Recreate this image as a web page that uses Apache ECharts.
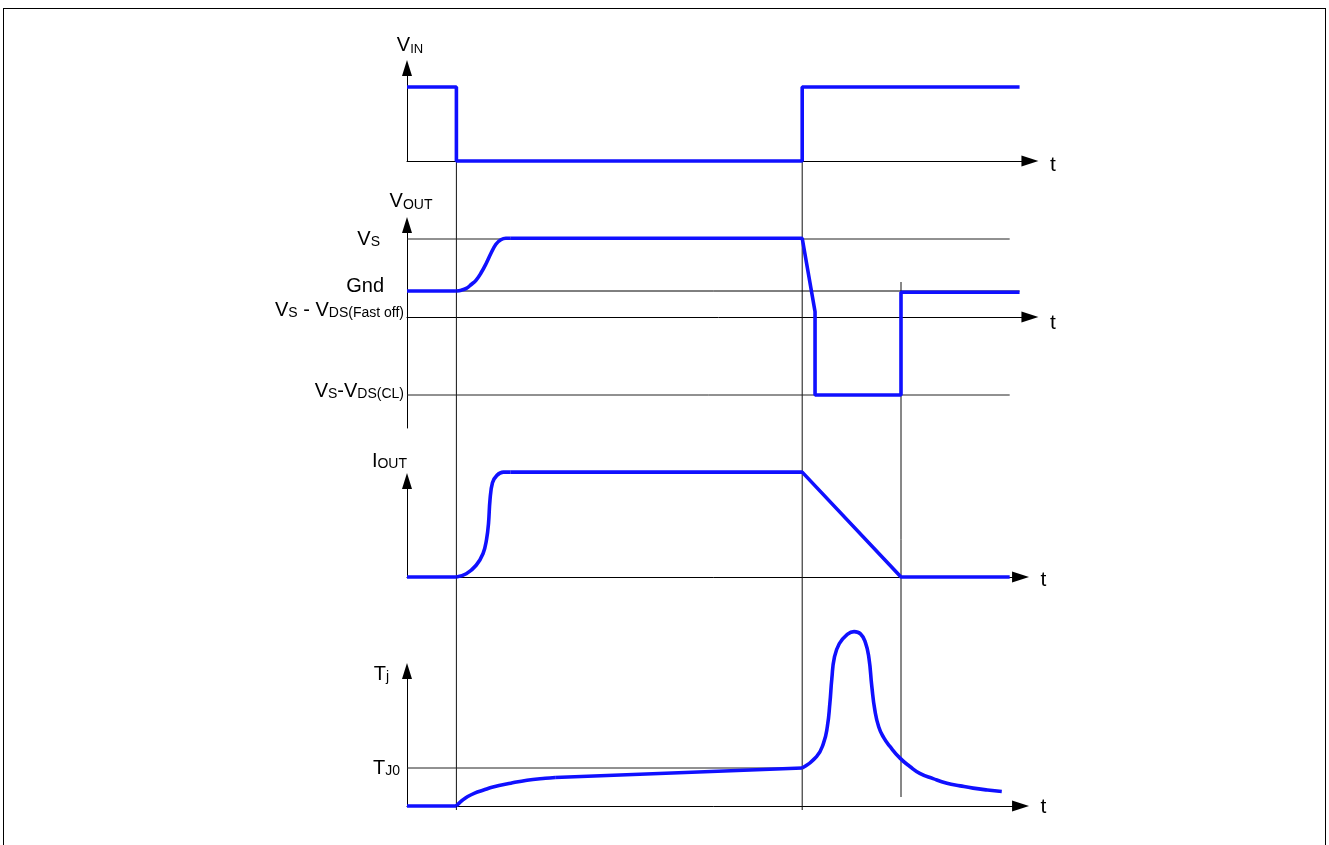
<!DOCTYPE html>
<html><head><meta charset="utf-8">
<script src="https://cdn.jsdelivr.net/npm/echarts@6/dist/echarts.min.js"></script>
<style>
html,body{margin:0;padding:0;background:#fff;}
#wrap{position:relative;width:1329px;height:845px;overflow:hidden;}
#chart{position:absolute;left:0;top:0;width:1329px;height:845px;}
#frame{position:absolute;left:3px;top:8px;width:1323px;height:900px;border:1px solid #000;box-sizing:border-box;pointer-events:none;}
</style></head><body>
<div id="wrap"><div id="chart"></div><div id="frame"></div></div>
<script>
// ---- data (time in arbitrary units, levels in arbitrary units) ----
const switchTimes = [10, 80];          // VIN falls / VIN rises
const clampEndTime = 100;              // end of clamping
// V_IN
const vinData = [[0,1],[10,1],[10,0],[80,0],[80,1],[124,1]];
// V_OUT levels
const VS = 3, GND = 1, FAST = 0, CL = -3;
const voutLevels = [VS, GND, FAST, CL];
const voutStart = [[0,1],[10,1]];
const voutRise = [[10,1],[11,1.03],[12,1.1],[13,1.25],[14,1.42],[15,1.7],[16,2.05],[17,2.45],[18,2.8],[19,2.97],[20,3.03],[21,3.03]];
const voutTail = [[21,3.03],[80,3.03],[82.6,0.2],[82.6,-3],[100,-3],[100,0.95],[124,0.95]];
const vsLine = [[0,3],[122,3]];
const gndLine = [[0,1],[124,1]];
const clLine = [[0,-3],[122,-3]];
// I_OUT
const ioutStart = [[0,0],[10,0]];
const ioutRise = [[10,0],[12,0.03],[14,0.11],[15.4,0.22],[16.1,0.35],[16.5,0.5],[16.8,0.72],[17.3,0.88],[18.2,0.95],[19.5,0.98],[21,0.98]];
const ioutTail = [[21,0.98],[80,0.98],[100,0],[122,0]];
// T_j
const TJ0 = 1;
const tjStart = [[0,0],[10,0]];
const tjRise = [[10,0],[10.5,0.07],[11.2,0.15],[12.3,0.25],[13.7,0.34],[15.5,0.42],[17.4,0.5],[21,0.6],[24.3,0.68],[28,0.73],[30,0.75]];
const tjLinear = [[30,0.75],[80,1]];
const tjSpike = [[80,1],[82.9,1.3],[84.3,1.65],[85.1,2.1],[85.6,2.7],[86,3.35],[86.5,3.9],[87.5,4.27],[89,4.5],[90.5,4.59],[91.8,4.53],[92.8,4.3],[93.5,3.9],[94.1,3.14],[94.7,2.53],[95.5,2.08],[96.5,1.8],[97.8,1.56],[99.8,1.26],[101.8,1.04],[103.8,0.86],[106.5,0.72],[109.3,0.6],[112,0.53],[114.6,0.47],[117.5,0.42],[120.4,0.38]];
const tj0Line = [[0,1],[80,1]];

// ---- layout ----
const FONT = "'Liberation Sans', Arial, sans-serif";
const PX = 4.94, X0 = 407;
const BLUE = '#1010ff';
const base = {fontFamily:FONT, color:'#000', verticalAlign:'bottom'};
const rich = {
  v: Object.assign({fontSize:20, lineHeight:20}, base),
  s: Object.assign({fontSize:14, lineHeight:4}, base),
  si: Object.assign({fontSize:13, lineHeight:4}, base),
  sR: Object.assign({fontSize:14, lineHeight:4, padding:[0,24,0,0]}, base),
  vR: Object.assign({fontSize:20, lineHeight:20, padding:[0,20,0,0]}, base),
  t: {fontSize:21, lineHeight:21, fontFamily:FONT, color:'#000'},
  g2: {fontSize:1, lineHeight:2}, g6: {fontSize:1, lineHeight:6},
  g8: {fontSize:1, lineHeight:8}, g10: {fontSize:1, lineHeight:10},
  g12: {fontSize:1, lineHeight:12}, g14: {fontSize:1, lineHeight:14}
};
function gridFor(base, unit, yMin, yMax, xMax){
  return {left:X0, width:xMax*PX, top:base - yMax*unit, height:(yMax-yMin)*unit, outerBoundsMode:'none', containLabel:false};
}
const panels = [
  {base:161, unit:74, yMin:0, yMax:1.257, xMax:126.1, tName:'{g8| }\n{t|t}'},
  {base:317, unit:26, yMin:-4.27, yMax:3.54, xMax:126.1, tName:'{g12| }\n{t|t}'},
  {base:577, unit:107, yMin:0, yMax:0.897, xMax:124.2, tName:'{g6| }\n{t|t}'},
  {base:806, unit:38, yMin:0, yMax:3.55, xMax:124.2, tName:'{g2| }\n{t|t}'}
];
const grids = panels.map(p => gridFor(p.base, p.unit, p.yMin, p.yMax, p.xMax));
// overlay grids for event guide lines
grids.push({left:X0, width:126.1*PX, top:86, height:724, outerBoundsMode:'none'});
grids.push({left:X0, width:126.1*PX, top:282, height:515, outerBoundsMode:'none'});

const xAxes = panels.map((p,i) => ({
  type:'value', gridIndex:i, min:0, max:p.xMax,
  axisLine:{show:true, onZero:true, symbol:['none','triangle'], symbolSize:[11,17], lineStyle:{color:'#000', width:1}},
  axisTick:{show:false}, axisLabel:{show:false}, splitLine:{show:false},
  name:p.tName, nameLocation:'end', nameGap:20,
  nameTextStyle:{rich:rich, align:'left', verticalAlign:'middle'}
}));
xAxes.push({type:'value', gridIndex:4, min:0, max:126.1, show:false});
xAxes.push({type:'value', gridIndex:5, min:0, max:126.1, show:false});

const yLine = {show:true, onZero:false, symbol:['none','triangle'], symbolSize:[10,16], lineStyle:{color:'#000', width:1}};
const voutLabelText = {};
voutLabelText[VS] = '{v|V}{sR|S}';
voutLabelText[GND] = '{vR|Gnd}\n{g10| }';
voutLabelText[FAST] = '{v|V}{s|S}{v| - V}{s|DS(Fast off)}\n{g14| }';
voutLabelText[CL] = '{v|V}{s|S}{v|-V}{s|DS(CL)}\n{g8| }';

const yAxes = [
  {type:'value', gridIndex:0, min:panels[0].yMin, max:panels[0].yMax, axisLine:yLine, axisTick:{show:false}, axisLabel:{show:false}, splitLine:{show:false},
   name:'{v|V}{si|IN}', nameLocation:'end', nameGap:12, nameTextStyle:{rich:rich, align:'center', verticalAlign:'bottom', padding:[0,0,0,6]}},
  {type:'value', gridIndex:1, min:panels[1].yMin, max:panels[1].yMax, axisLine:yLine, axisTick:{show:false}, splitLine:{show:false},
   axisLabel:{show:true, customValues:voutLevels, margin:3, formatter:v => voutLabelText[v] || '', rich:rich, align:'right'},
   name:'{v|V}{s|OUT}', nameLocation:'end', nameGap:13, nameTextStyle:{rich:rich, align:'center', verticalAlign:'bottom', padding:[0,0,0,8]}},
  {type:'value', gridIndex:2, min:panels[2].yMin, max:panels[2].yMax, axisLine:yLine, axisTick:{show:false}, axisLabel:{show:false}, splitLine:{show:false},
   name:'{v|I}{s|OUT}', nameLocation:'end', nameGap:10, nameTextStyle:{rich:rich, align:'right', verticalAlign:'bottom'}},
  {type:'value', gridIndex:3, min:panels[3].yMin, max:panels[3].yMax, axisLine:yLine, axisTick:{show:false}, splitLine:{show:false},
   axisLabel:{show:true, customValues:[TJ0], margin:7, formatter:() => '{v|T}{s|J0}', rich:rich, align:'right'},
   name:'{v|T}{s|j}', nameLocation:'end', nameGap:-3, nameTextStyle:{rich:rich, align:'right', verticalAlign:'middle', padding:[0,18,0,0]}},
  {type:'value', gridIndex:4, min:0, max:1, show:false},
  {type:'value', gridIndex:5, min:0, max:1, show:false}
];

function line(idx, data, opts){
  return Object.assign({type:'line', xAxisIndex:idx, yAxisIndex:idx, data:data, symbol:'none', silent:true, clip:false,
    animation:false, lineStyle:{color:BLUE, width:3.6}, z:5}, opts||{});
}
function ref(idx, data, color){
  return line(idx, data, {lineStyle:{color:color||'#222', width:1}, z:2});
}
const series = [
  // guide lines
  ...switchTimes.map(t => ref(4, [[t,0],[t,1]], '#111')),
  ref(5, [[clampEndTime,0],[clampEndTime,1]], '#111'),
  // reference levels
  ref(1, vsLine), ref(1, gndLine, '#000'), ref(1, clLine), ref(3, tj0Line),
  // signals
  line(0, vinData),
  line(1, voutStart), line(1, voutRise, {smooth:0.4}), line(1, voutTail),
  line(2, ioutStart), line(2, ioutRise, {smooth:0.4}), line(2, ioutTail),
  line(3, tjStart), line(3, tjRise, {smooth:0.4}), line(3, tjLinear), line(3, tjSpike, {smooth:0.5})
];

const chart = echarts.init(document.getElementById('chart'), null, {renderer:'canvas'});
chart.setOption({
  animation:false, backgroundColor:'#fff',
  textStyle:{fontFamily:FONT},
  grid:grids, xAxis:xAxes, yAxis:yAxes, series:series
});
</script>
</body></html>
